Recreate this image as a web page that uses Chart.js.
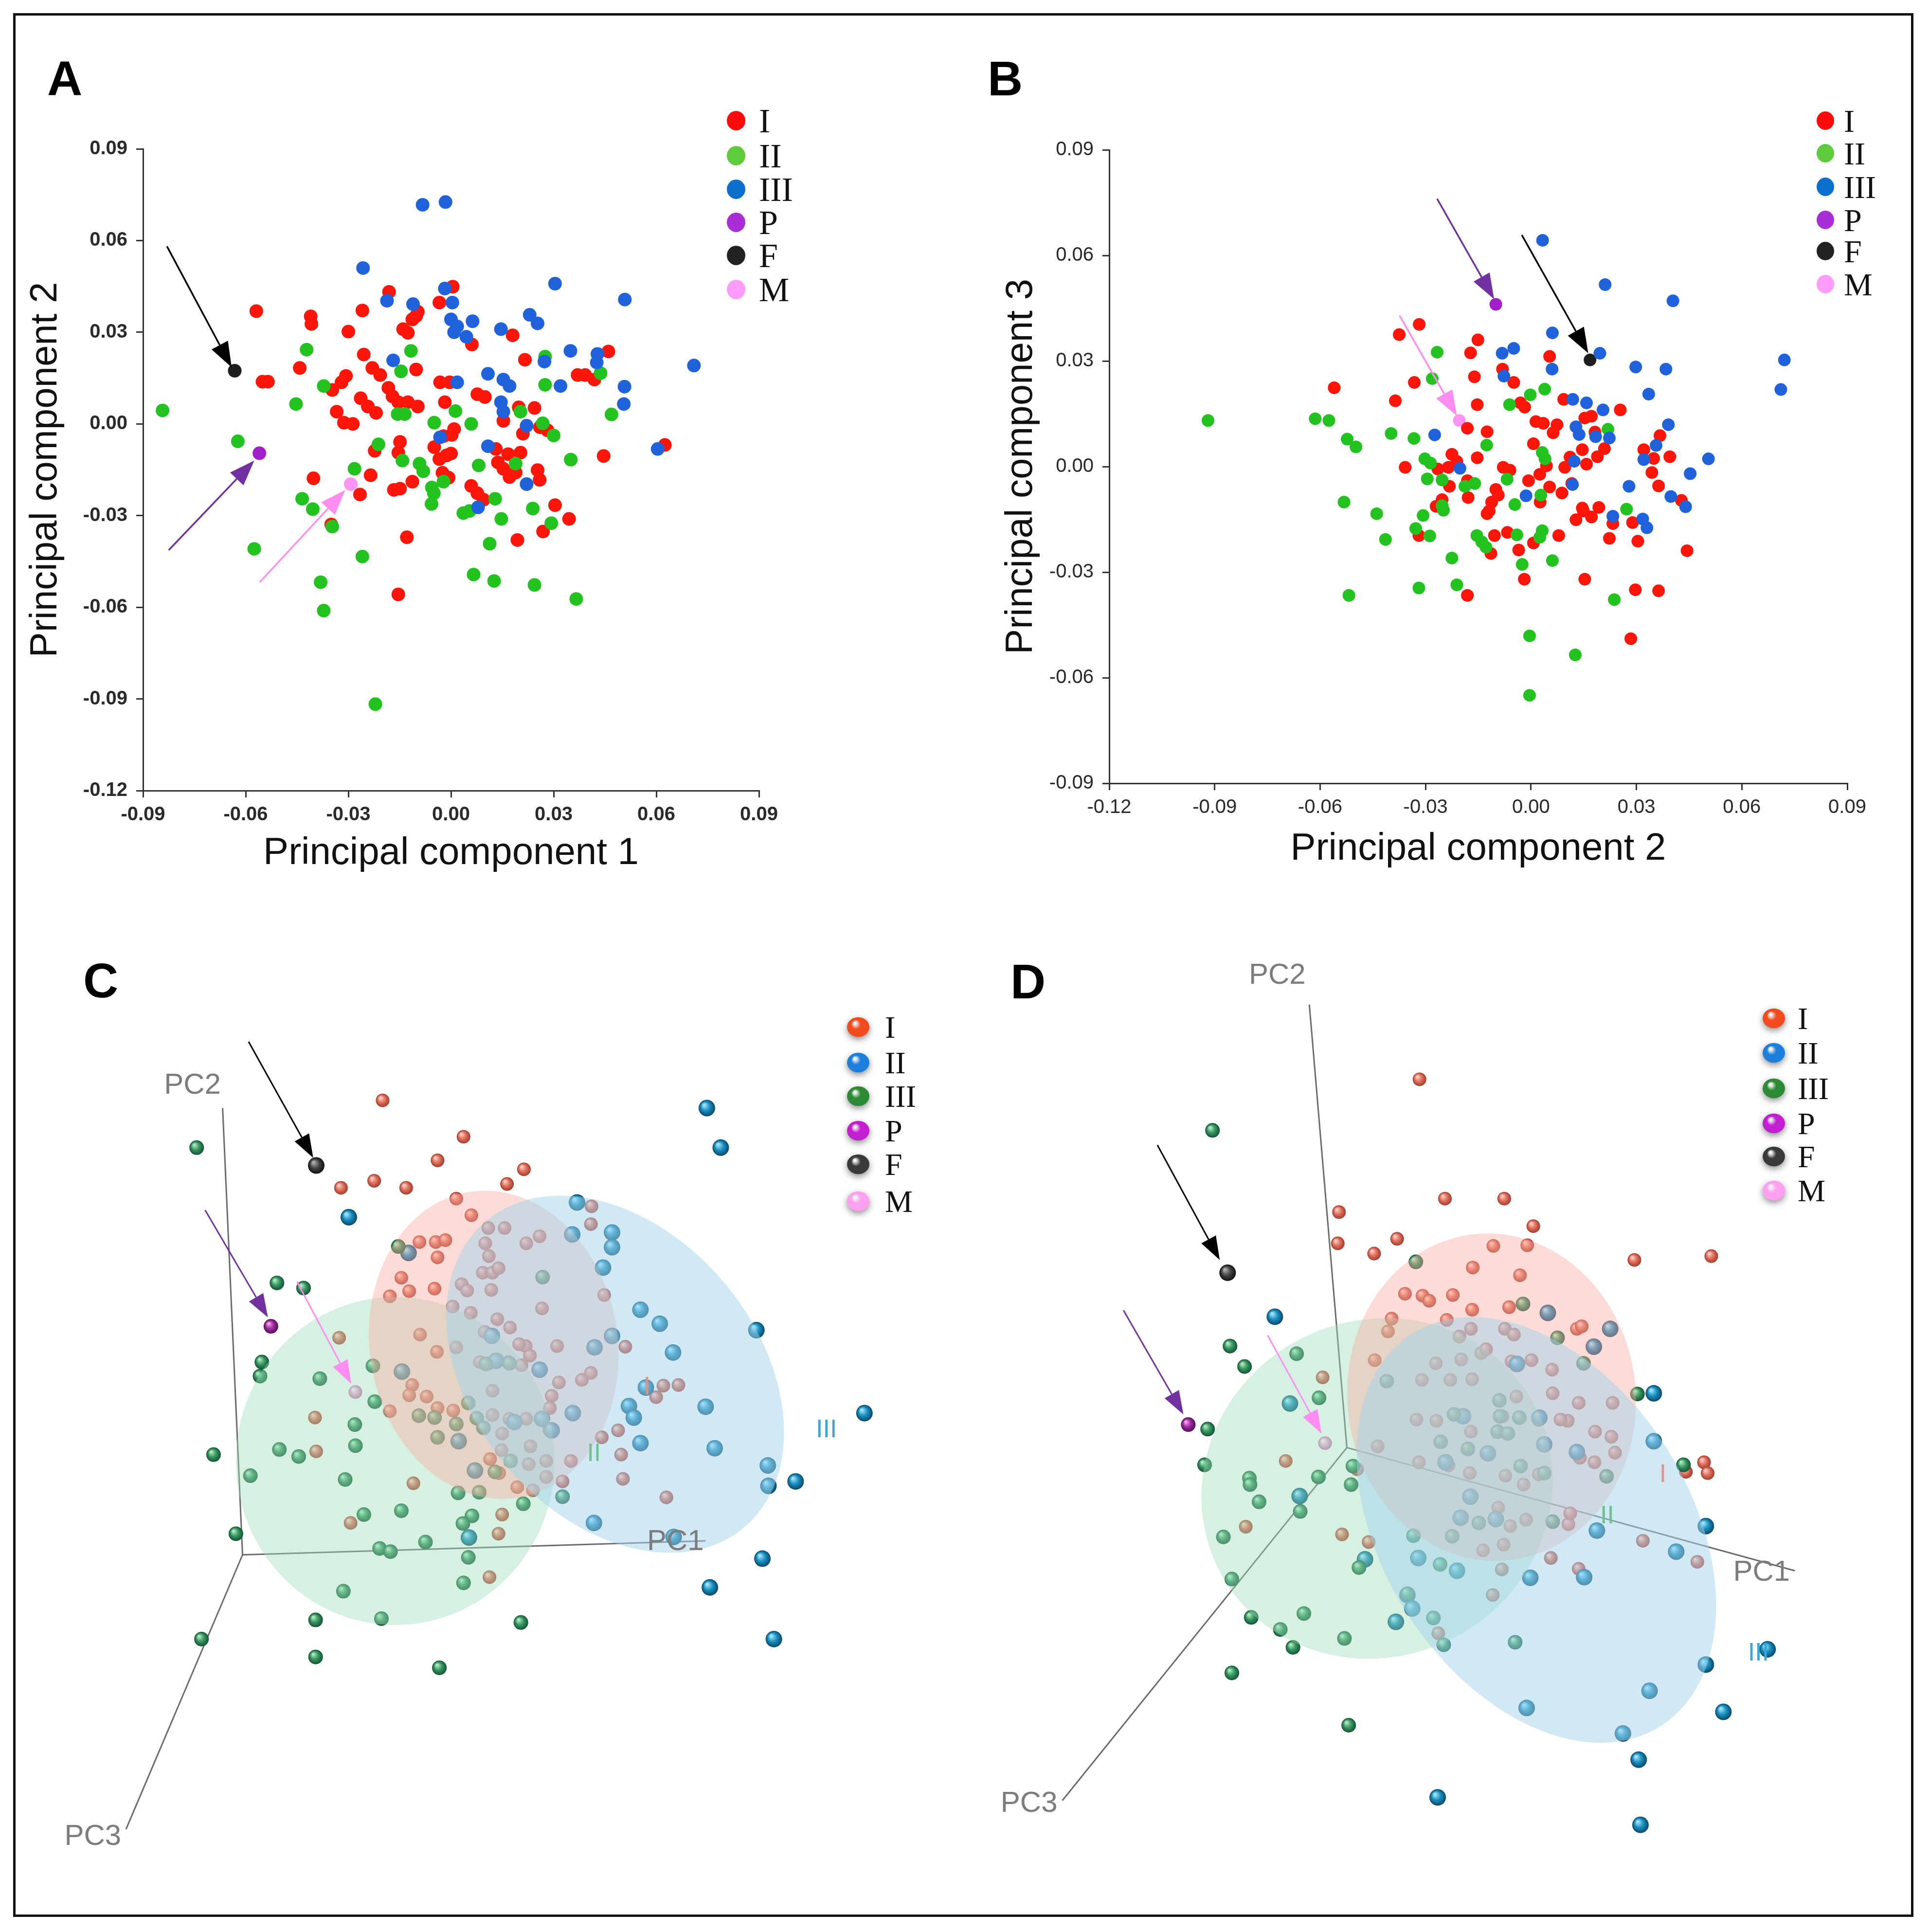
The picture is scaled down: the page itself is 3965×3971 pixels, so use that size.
<!DOCTYPE html>
<html>
<head>
<meta charset="utf-8">
<script src="https://cdn.jsdelivr.net/npm/chart.js@4.4.1/dist/chart.umd.min.js"></script>
<style>
  html, body { margin: 0; padding: 0; background: #fff; }
  #page { position: relative; width: 3965px; height: 3971px; background: #fff; overflow: hidden; }
  #page canvas { position: absolute; }
  #frame { position: absolute; left: 27px; top: 27px; width: 3896px; height: 3903px; border: 5px solid #111; pointer-events: none; }
</style>
</head>
<body>
<div id="page">
  <canvas id="chartA" width="1980" height="1880" style="left:0;top:0;width:1980px;height:1880px"></canvas>
  <canvas id="chartB" width="1985" height="1880" style="left:1980px;top:0;width:1985px;height:1880px"></canvas>
  <canvas id="chartC" width="1980" height="2091" style="left:0;top:1880px;width:1980px;height:2091px"></canvas>
  <canvas id="chartD" width="1985" height="2091" style="left:1980px;top:1880px;width:1985px;height:2091px"></canvas>
  <div id="frame"></div>
</div>
<script>
// ---- Panel A: PC1 (x) vs PC2 (y) ----
const a_I = [[0.0005,0.0449],[-0.0181,0.0432],[-0.0034,0.0397],[-0.0259,0.0371],[-0.0569,0.0369],[-0.0410,0.0352],[-0.0408,0.0327],[-0.0300,0.0302],[-0.0140,0.0310],[-0.0126,0.0298],[-0.0102,0.0353],[-0.0113,0.0342],[-0.0097,0.0367],[0.0180,0.0290],[0.0061,0.0260],[0.0216,0.0210],[0.0460,0.0237],[-0.0442,0.0183],[-0.0551,0.0138],[-0.0535,0.0138],[-0.0230,0.0183],[-0.0207,0.0160],[-0.0255,0.0227],[-0.0102,0.0178],[-0.0307,0.0157],[-0.0320,0.0136],[-0.0347,0.0111],[-0.0264,0.0084],[-0.0183,0.0118],[-0.0171,0.0090],[-0.0154,0.0071],[-0.0126,0.0071],[-0.0097,0.0057],[-0.0243,0.0057],[-0.0219,0.0036],[-0.0032,0.0136],[-0.0004,0.0136],[-0.0018,0.0071],[0.0077,0.0097],[0.0099,0.0088],[0.0198,0.0054],[0.0244,0.0052],[0.0153,0.0010],[-0.0334,0.0040],[-0.0313,0.0004],[-0.0287,0.0000],[-0.0022,-0.0040],[0.0002,-0.0036],[0.0009,-0.0017],[-0.0049,-0.0076],[-0.0149,-0.0059],[-0.0154,-0.0094],[-0.0223,-0.0088],[0.0000,-0.0097],[-0.0013,-0.0103],[-0.0034,-0.0115],[0.0131,-0.0082],[0.0167,-0.0099],[0.0203,-0.0094],[0.0137,-0.0126],[0.0153,-0.0147],[0.0171,-0.0174],[0.0189,-0.0159],[0.0059,-0.0203],[0.0077,-0.0227],[0.0095,-0.0248],[0.0210,-0.0032],[0.0260,-0.0011],[0.0282,-0.0021],[0.0370,0.0160],[0.0392,0.0160],[0.0419,0.0145],[0.0446,-0.0105],[0.0253,-0.0151],[0.0259,-0.0183],[0.0269,-0.0352],[0.0304,-0.0266],[0.0345,-0.0311],[0.0625,-0.0069],[-0.0402,-0.0178],[-0.0235,-0.0168],[-0.0266,-0.0231],[-0.0167,-0.0216],[-0.0149,-0.0212],[-0.0113,-0.0189],[-0.0007,-0.0176],[-0.0350,-0.0329],[-0.0129,-0.0371],[0.0194,-0.0380],[-0.0154,-0.0558],[-0.0025,-0.0160]];
const a_II = [[-0.0422,0.0243],[-0.0117,0.0239],[-0.0146,0.0172],[-0.0372,0.0124],[-0.0453,0.0065],[-0.0843,0.0044],[-0.0623,-0.0057],[-0.0156,0.0032],[-0.0135,0.0032],[-0.0049,0.0004],[0.0013,0.0042],[0.0059,0.0000],[0.0203,0.0040],[0.0275,0.0220],[0.0275,0.0128],[0.0268,0.0002],[0.0300,-0.0038],[0.0469,0.0031],[0.0437,0.0166],[0.0350,-0.0117],[-0.0142,-0.0120],[-0.0092,-0.0130],[-0.0081,-0.0155],[-0.0056,-0.0208],[-0.0050,-0.0227],[-0.0057,-0.0262],[0.0081,-0.0136],[0.0189,-0.0130],[-0.0282,-0.0147],[-0.0212,-0.0067],[-0.0022,-0.0189],[0.0036,-0.0292],[0.0054,-0.0285],[0.0129,-0.0245],[0.0147,-0.0311],[0.0239,-0.0277],[0.0293,-0.0325],[0.0113,-0.0392],[-0.0435,-0.0245],[-0.0404,-0.0279],[-0.0347,-0.0336],[-0.0575,-0.0409],[-0.0259,-0.0434],[-0.0381,-0.0518],[-0.0372,-0.0611],[0.0066,-0.0493],[0.0126,-0.0514],[0.0244,-0.0527],[0.0366,-0.0573],[-0.0221,-0.0917]];
const a_III = [[-0.0083,0.0717],[-0.0016,0.0726],[-0.0257,0.0510],[0.0304,0.0459],[0.0508,0.0407],[-0.0018,0.0443],[-0.0187,0.0403],[-0.0111,0.0392],[0.0004,0.0397],[0.0000,0.0342],[0.0063,0.0336],[0.0018,0.0319],[0.0009,0.0300],[0.0045,0.0285],[0.0146,0.0310],[0.0230,0.0357],[0.0253,0.0329],[-0.0169,0.0208],[0.0349,0.0239],[0.0428,0.0229],[0.0426,0.0201],[0.0710,0.0191],[0.0108,0.0164],[0.0153,0.0145],[0.0171,0.0124],[0.0320,0.0124],[0.0507,0.0122],[0.0505,0.0065],[0.0018,0.0136],[0.0146,0.0071],[0.0153,0.0040],[-0.0032,-0.0044],[0.0108,-0.0073],[0.0604,-0.0082],[0.0221,-0.0006],[0.0221,-0.0197],[0.0079,-0.0273],[0.0273,0.0204]];
const a_P = [[-0.0560,-0.0096]];
const a_F = [[-0.0632,0.0174]];
const a_M = [[-0.0293,-0.0197]];
const a_arrows = [
  { from: [-0.0830, 0.0581], to: [-0.0641, 0.0185], color: '#000000' },
  { from: [-0.0825, -0.0413], to: [-0.0575, -0.0120], color: '#7030a0' },
  { from: [-0.0559, -0.0518], to: [-0.0309, -0.0216], color: '#ff8cf0' }
];

// ---- Panel B: PC2 (x) vs PC3 (y) ----
const b_I = [[-0.0318,0.0404],[-0.0375,0.0375],[-0.0151,0.0360],[-0.0172,0.0323],[0.0053,0.0313],[-0.0081,0.0277],[-0.0049,0.0239],[-0.0332,0.0239],[-0.0161,0.0255],[-0.0560,0.0224],[-0.0386,0.0187],[-0.0153,0.0176],[-0.0030,0.0181],[-0.0018,0.0169],[0.0093,0.0191],[0.0254,0.0161],[0.0014,0.0128],[0.0035,0.0123],[0.0063,0.0096],[0.0172,0.0143],[0.0153,0.0138],[0.0182,0.0098],[-0.0181,0.0109],[-0.0125,0.0099],[0.0074,0.0119],[0.0007,0.0065],[0.0146,0.0048],[0.0209,0.0051],[0.0189,0.0028],[0.0158,0.0007],[0.0367,0.0088],[0.0321,0.0048],[0.0349,0.0023],[0.0395,0.0028],[0.0344,-0.0017],[0.0363,-0.0055],[0.0428,-0.0096],[-0.0153,0.0025],[-0.0225,0.0035],[-0.0211,0.0015],[-0.0235,-0.0002],[-0.0265,-0.0007],[-0.0358,-0.0002],[-0.0232,-0.0056],[-0.0181,-0.0040],[-0.0179,-0.0088],[-0.0100,-0.0065],[-0.0112,-0.0101],[-0.0093,-0.0081],[-0.0119,-0.0126],[-0.0125,-0.0134],[-0.0079,-0.0002],[-0.0060,-0.0010],[-0.0007,-0.0040],[0.0025,-0.0022],[0.0044,0.0002],[0.0053,-0.0058],[0.0088,-0.0075],[0.0096,-0.0002],[0.0026,-0.0101],[0.0149,-0.0126],[0.0172,-0.0143],[0.0128,-0.0151],[0.0146,-0.0118],[0.0193,-0.0116],[0.0233,-0.0162],[0.0289,-0.0159],[0.0116,-0.0048],[0.0111,0.0027],[-0.0319,-0.0196],[-0.0104,-0.0196],[-0.0067,-0.0187],[-0.0114,-0.0247],[-0.0035,-0.0237],[0.0007,-0.0217],[0.0079,-0.0196],[0.0223,-0.0204],[0.0304,-0.0212],[0.0444,-0.0239],[-0.0019,-0.0320],[0.0153,-0.0320],[0.0297,-0.0350],[0.0363,-0.0353],[-0.0181,-0.0366],[0.0284,-0.0489],[-0.0270,-0.0113],[-0.0253,-0.0094]];
const b_II = [[-0.0919,0.0131],[-0.0614,0.0136],[-0.0575,0.0131],[-0.0523,0.0078],[-0.0498,0.0056],[-0.0398,0.0094],[-0.0333,0.0080],[-0.0281,0.0250],[-0.0267,0.0325],[-0.0302,0.0022],[-0.0286,0.0010],[-0.0295,-0.0035],[-0.0253,-0.0038],[-0.0160,-0.0048],[-0.0126,0.0061],[-0.0002,0.0204],[0.0039,0.0220],[-0.0061,0.0176],[0.0032,0.0040],[0.0040,0.0022],[0.0028,-0.0081],[0.0032,-0.0182],[0.0025,-0.0201],[-0.0532,-0.0101],[-0.0439,-0.0134],[-0.0307,-0.0139],[-0.0253,-0.0111],[-0.0249,-0.0124],[-0.0328,-0.0176],[-0.0288,-0.0197],[-0.0414,-0.0207],[-0.0154,-0.0196],[-0.0140,-0.0214],[-0.0128,-0.0229],[-0.0046,-0.0108],[-0.0040,-0.0194],[-0.0068,-0.0036],[-0.0225,-0.0260],[-0.0025,-0.0278],[0.0061,-0.0267],[0.0219,0.0106],[0.0272,-0.0121],[-0.0319,-0.0345],[-0.0211,-0.0336],[-0.0518,-0.0366],[0.0237,-0.0378],[-0.0004,-0.0481],[0.0126,-0.0535],[-0.0004,-0.0650],[-0.0188,-0.0056]];
const b_III = [[0.0033,0.0643],[0.0211,0.0517],[0.0404,0.0471],[0.0061,0.0380],[-0.0082,0.0322],[-0.0049,0.0336],[0.0196,0.0322],[0.0060,0.0277],[0.0298,0.0283],[0.0384,0.0277],[0.0721,0.0303],[0.0711,0.0219],[-0.0077,0.0257],[0.0335,0.0206],[0.0119,0.0191],[0.0158,0.0181],[0.0205,0.0161],[0.0391,0.0119],[0.0137,0.0091],[0.0184,0.0085],[0.0223,0.0081],[-0.0274,0.0090],[0.0356,0.0060],[0.0505,0.0022],[0.0453,-0.0020],[0.0123,0.0015],[0.0321,0.0020],[-0.0202,-0.0005],[0.0279,-0.0056],[0.0118,-0.0051],[-0.0014,-0.0083],[0.0398,-0.0085],[0.0440,-0.0114],[0.0233,-0.0141],[0.0318,-0.0149],[0.0330,-0.0174],[0.0128,0.0113]];
const b_P = [[-0.0100,0.0461]];
const b_F = [[0.0168,0.0303]];
const b_M = [[-0.0204,0.0131]];
const b_arrows = [
  { from: [-0.0267, 0.0761], to: [-0.0105, 0.0476], color: '#7030a0' },
  { from: [-0.0026, 0.0658], to: [0.0163, 0.0322], color: '#000000' },
  { from: [-0.0374, 0.0429], to: [-0.0211, 0.0144], color: '#ff8cf0' }
];

// ---- Panels C and D: 3-D views, points given in the projected view plane (0..1568, y down) ----
const c_I = [[620,278],[754,335],[711,372],[854,386],[551,415],[606,404],[659,415],[826,409],[742,432],[966,444],[767,458],[822,478],[795,478],[858,502],[880,491],[681,500],[708,500],[724,497],[711,524],[790,502],[796,522],[786,548],[802,548],[812,541],[651,556],[751,566],[760,576],[800,575],[664,577],[706,573],[632,585],[987,583],[965,472],[884,604],[736,601],[766,611],[810,621],[682,645],[789,641],[548,650],[831,634],[857,663],[846,660],[909,663],[1022,664],[742,665],[710,672],[781,688],[796,690],[828,688],[850,693],[864,678],[669,724],[664,740],[693,742],[802,733],[912,720],[950,716],[965,705],[1085,725],[1110,724],[1073,743],[900,741],[897,760],[508,775],[632,765],[711,760],[737,764],[802,771],[830,777],[858,777],[510,828],[865,820],[818,800],[817,826],[896,794],[983,806],[1010,795],[1015,833],[798,840],[813,862],[862,848],[891,843],[932,843],[671,878],[869,889],[891,868],[918,875],[1018,871],[1090,900],[818,927],[812,957],[567,940],[797,1025],[843,884]];
const c_II = [[1157,290],[1180,352],[564,461],[942,438],[934,488],[1000,485],[1000,508],[985,540],[663,517],[1047,606],[1079,628],[1239,638],[1101,673],[971,665],[1000,647],[801,647],[808,686],[880,700],[652,703],[935,768],[1028,757],[838,782],[884,777],[900,795],[746,812],[1047,815],[1155,758],[1170,823],[1258,850],[1259,882],[1304,875],[1418,768],[773,858],[970,940],[763,963],[1102,962],[1249,996],[1162,1041],[1268,1122],[1056,728],[1036,775]];
const c_III = [[312,352],[445,564],[489,572],[420,688],[417,710],[516,714],[604,694],[607,750],[340,833],[449,825],[481,836],[574,786],[575,819],[401,866],[558,872],[646,507],[885,555],[706,775],[680,772],[762,752],[742,785],[776,776],[787,791],[711,806],[806,860],[832,843],[745,893],[780,892],[589,927],[651,921],[768,929],[753,941],[853,910],[918,899],[377,957],[615,980],[633,985],[691,970],[762,994],[754,1034],[555,1047],[509,1092],[618,1090],[849,1096],[320,1122],[509,1150],[714,1167],[830,690],[791,691]];
const c_P = [[435,632]];
const c_F = [[510,380]];
const c_M = [[575,735]];
const c_arrows = [
  { from: [398,186], to: [505,368], color: '#000000' },
  { from: [326,450], to: [430,618], color: '#7030a0' },
  { from: [478,562], to: [568,722], color: '#ff8cf0' }
];
const c_axes = { origin: [388,990], ends: [[1155,968],[355,290],[195,1420]], labels: [['PC1',1105,970],['PC2',305,255],['PC3',140,1432]] };
const c_ellipses = [
  { label: 'II', cx: 641, cy: 843, rx: 264, ry: 257, rot: 0, lx: 970, ly: 832 },
  { label: 'I', cx: 804, cy: 661, rx: 205, ry: 243, rot: -12, lx: 1058, ly: 728 },
  { label: 'III', cx: 1005, cy: 707, rx: 322, ry: 230, rot: 45, lx: 1355, ly: 795 }
];

const d_I = [[740,245],[782,432],[880,432],[607,453],[605,502],[703,495],[665,518],[928,475],[862,506],[918,505],[1095,528],[1222,522],[828,540],[906,552],[716,581],[745,584],[756,592],[795,583],[827,606],[888,602],[694,620],[785,622],[825,636],[881,636],[896,645],[1000,636],[1008,632],[688,640],[806,648],[842,674],[850,668],[666,685],[767,690],[809,684],[892,687],[925,685],[959,700],[580,712],[744,716],[791,716],[827,715],[900,742],[960,737],[1003,752],[1059,752],[735,778],[768,780],[825,797],[877,773],[937,779],[985,780],[973,778],[1030,797],[1057,805],[1063,830],[1029,845],[1210,845],[1180,860],[1216,862],[671,820],[739,845],[788,850],[823,862],[882,866],[912,880],[937,864],[1005,838],[519,843],[637,856],[870,916],[890,945],[916,935],[986,942],[989,925],[453,946],[612,958],[656,970],[845,983],[879,974],[957,995],[1003,1012],[1109,968],[1199,1001],[876,1013],[861,1053],[771,1113]];
const d_II = [[501,617],[952,611],[1055,636],[1028,664],[901,691],[526,753],[938,775],[946,817],[1000,829],[853,831],[783,845],[812,773],[1127,737],[1127,812],[542,898],[824,899],[866,934],[808,932],[1033,952],[1213,945],[1164,985],[650,997],[738,995],[802,1015],[923,1026],[1012,1025],[720,1053],[728,1074],[701,1095],[917,1230],[1120,1203],[1242,1236],[1076,1270],[1213,1162],[1315,1138],[1102,1311],[770,1370],[1105,1413]];
const d_III = [[398,325],[734,531],[911,597],[427,663],[451,695],[537,675],[574,744],[390,793],[686,718],[385,849],[459,870],[460,880],[475,907],[573,868],[543,922],[630,851],[627,880],[775,813],[797,770],[820,824],[869,797],[872,748],[873,773],[905,775],[886,800],[907,851],[946,862],[1049,867],[1100,738],[1011,690],[968,650],[1176,849],[416,962],[430,1028],[730,960],[794,961],[838,940],[960,938],[640,1010],[774,1005],[462,1088],[510,1107],[549,1082],[531,1135],[616,1121],[720,1051],[763,1089],[780,1131],[898,1127],[430,1175],[623,1257]];
const d_P = [[358,786]];
const d_F = [[423,548]];
const d_M = [[584,815]];
const d_arrows = [
  { from: [307,348], to: [410,528], color: '#000000' },
  { from: [251,607], to: [350,770], color: '#7030a0' },
  { from: [489,646], to: [578,800], color: '#ff8cf0' }
];
const d_axes = { origin: [620,822], ends: [[1360,1015],[558,128],[150,1375]], labels: [['PC1',1305,1018],['PC2',505,83],['PC3',95,1380]] };
const d_ellipses = [
  { label: 'II', cx: 670, cy: 886, rx: 292, ry: 265, rot: -15, lx: 1050, ly: 930 },
  { label: 'I', cx: 859, cy: 743, rx: 238, ry: 257, rot: -10, lx: 1142, ly: 865 },
  { label: 'III', cx: 933, cy: 951, rx: 370, ry: 250, rot: 54, lx: 1300, ly: 1145 }
];

const groupNames = ['I', 'II', 'III', 'P', 'F', 'M'];

Chart.defaults.font.family = '"Liberation Sans", Arial, sans-serif';
Chart.defaults.animation = false;
Chart.defaults.plugins.legend.display = false;
Chart.defaults.plugins.tooltip.enabled = false;

const toXY = arr => arr.map(p => ({ x: p[0], y: p[1] }));
const fmt = v => (Math.abs(v) < 1e-9 ? 0 : v).toFixed(2);

function drawArrow(ctx, x1, y1, x2, y2, color, lw, headLen, headW) {
  const ang = Math.atan2(y2 - y1, x2 - x1);
  const bx = x2 - headLen * Math.cos(ang);
  const by = y2 - headLen * Math.sin(ang);
  ctx.save();
  ctx.strokeStyle = color;
  ctx.fillStyle = color;
  ctx.lineWidth = lw;
  ctx.beginPath();
  ctx.moveTo(x1, y1);
  ctx.lineTo(bx, by);
  ctx.stroke();
  ctx.beginPath();
  ctx.moveTo(x2, y2);
  ctx.lineTo(bx + headW / 2 * Math.sin(ang), by - headW / 2 * Math.cos(ang));
  ctx.lineTo(bx - headW / 2 * Math.sin(ang), by + headW / 2 * Math.cos(ang));
  ctx.closePath();
  ctx.fill();
  ctx.restore();
}

function drawLegend(ctx, leg) {
  ctx.save();
  leg.rows.forEach((yy, i) => {
    const c = leg.colors[i];
    if (leg.sphere) {
      ctx.save();
      ctx.shadowColor = 'rgba(0,0,0,0.45)';
      ctx.shadowBlur = 14;
      ctx.shadowOffsetY = 5;
      const g = ctx.createRadialGradient(leg.x - leg.r * 0.3, yy - leg.r * 0.35, leg.r * 0.1, leg.x, yy, leg.r);
      g.addColorStop(0, 'rgba(255,255,255,0.9)');
      g.addColorStop(0.35, c);
      g.addColorStop(1, c);
      ctx.fillStyle = g;
      ctx.beginPath();
      ctx.ellipse(leg.x, yy, leg.r, leg.r * 0.88, 0, 0, Math.PI * 2);
      ctx.fill();
      ctx.restore();
    } else {
      ctx.fillStyle = c;
      ctx.beginPath();
      ctx.ellipse(leg.x, yy, leg.r, leg.r * 1.05, 0, 0, Math.PI * 2);
      ctx.fill();
    }
    ctx.fillStyle = '#111';
    ctx.font = leg.font;
    ctx.textAlign = 'left';
    ctx.textBaseline = 'middle';
    ctx.fillText(groupNames[i], leg.tx, yy + leg.dy);
  });
  ctx.restore();
}

function drawLetter(ctx, letter, x, y) {
  ctx.save();
  ctx.fillStyle = '#000';
  ctx.font = 'bold 100px "Liberation Sans", Arial, sans-serif';
  ctx.textAlign = 'center';
  ctx.textBaseline = 'middle';
  ctx.fillText(letter, x, y);
  ctx.restore();
}

// ---- 2-D panels ----
const flatColors = { I: '#ff1408', II: '#22c31f', III: '#1f62dc', P: '#a01fc8', F: '#1e1e1e', M: '#ff95f2' };
const flatLegend = ['#ff0a0a', '#5dcb3c', '#0b6fcd', '#a82fd6', '#222222', '#ff9cfa'];

function flatPanel(canvasId, sets, cfg) {
  const decor = {
    id: 'decor' + cfg.letter,
    afterDraw(chart) {
      const ctx = chart.ctx;
      const xs = chart.scales.x, ys = chart.scales.y;
      cfg.arrows.forEach(a => {
        drawArrow(ctx, xs.getPixelForValue(a.from[0]), ys.getPixelForValue(a.from[1]),
          xs.getPixelForValue(a.to[0]), ys.getPixelForValue(a.to[1]), a.color, 3.5, 52, 38);
      });
      drawLetter(ctx, cfg.letter, cfg.letterX, cfg.letterY);
      drawLegend(ctx, cfg.legend);
    }
  };
  const datasets = [
    ['III', sets[2]], ['II', sets[1]], ['I', sets[0]], ['P', sets[3]], ['F', sets[4]], ['M', sets[5]]
  ].map(([name, arr]) => ({
    label: name,
    data: toXY(arr),
    pointRadius: cfg.radius,
    pointBackgroundColor: flatColors[name],
    pointBorderWidth: 0,
    pointStyle: 'circle'
  }));
  const tickFont = { size: 40, weight: cfg.tickWeight };
  return new Chart(document.getElementById(canvasId), {
    type: 'scatter',
    data: { datasets },
    options: {
      responsive: false,
      devicePixelRatio: 1,
      layout: { padding: cfg.padding },
      scales: {
        x: {
          type: 'linear', min: cfg.xMin, max: cfg.xMax,
          ticks: { stepSize: 0.03, callback: fmt, font: tickFont, color: '#2a2a2a', padding: 12, maxRotation: 0, autoSkip: false },
          grid: { display: true, drawOnChartArea: false, drawTicks: true, tickLength: 14, color: '#333', lineWidth: 3 },
          border: { display: true, color: '#333', width: 3 },
          title: { display: true, text: cfg.xTitle, color: '#111', font: { size: 78 }, padding: { top: 0, bottom: cfg.xTitlePad } },
          afterFit(s) { s.height = cfg.xHeight; }
        },
        y: {
          type: 'linear', min: cfg.yMin, max: cfg.yMax,
          ticks: { stepSize: 0.03, callback: fmt, font: tickFont, color: '#2a2a2a', padding: 18, autoSkip: false },
          grid: { display: true, drawOnChartArea: false, drawTicks: true, tickLength: 14, color: '#333', lineWidth: 3 },
          border: { display: true, color: '#333', width: 3 },
          title: { display: true, text: cfg.yTitle, color: '#111', font: { size: 78 }, padding: { top: cfg.yTitlePad, bottom: 0 } },
          afterFit(s) { s.width = cfg.yWidth; }
        }
      }
    },
    plugins: [decor]
  });
}

flatPanel('chartA', [a_I, a_II, a_III, a_P, a_F, a_M], {
  letter: 'A', letterX: 133, letterY: 168,
  xMin: -0.09, xMax: 0.09, yMin: -0.12, yMax: 0.09,
  xTitle: 'Principal component 1', yTitle: 'Principal component 2',
  padding: { left: 4, top: 306, right: 420, bottom: 40 },
  xHeight: 215, yWidth: 290, xTitlePad: 39, yTitlePad: 44,
  radius: 14, tickWeight: 'bold', arrows: a_arrows,
  legend: { x: 1513, tx: 1560, rows: [248, 320, 389, 457, 525, 595], r: 19, dy: 6, colors: flatLegend,
            font: '70px "Liberation Serif", "DejaVu Serif", serif' }
});

flatPanel('chartB', [b_I, b_II, b_III, b_P, b_F, b_M], {
  letter: 'B', letterX: 86, letterY: 168,
  xMin: -0.12, xMax: 0.09, yMin: -0.09, yMax: 0.09,
  xTitle: 'Principal component 2', yTitle: 'Principal component 3',
  padding: { left: 4, top: 308, right: 168, bottom: 40 },
  xHeight: 230, yWidth: 296, xTitlePad: 48, yTitlePad: 69,
  radius: 13, tickWeight: 'normal', arrows: b_arrows,
  legend: { x: 1772, tx: 1810, rows: [248, 315, 384, 452, 516, 584], r: 18, dy: 6, colors: flatLegend,
            font: '66px "Liberation Serif", "DejaVu Serif", serif' }
});

// ---- 3-D panels ----
const sphereColors = {
  I:   { base: '#e0705e', light: '#ffd3c8', dark: '#a23c2c', r: 14 },
  II:  { base: '#1a8fc0', light: '#a6e6ff', dark: '#0a4868', r: 17 },
  III: { base: '#379760', light: '#b4ecc4', dark: '#145236', r: 15 },
  P:   { base: '#9e2a9e', light: '#f2a8f2', dark: '#541058', r: 15 },
  F:   { base: '#454545', light: '#b0b0b0', dark: '#101010', r: 17 },
  M:   { base: '#f0a6da', light: '#fff2fb', dark: '#c46ca8', r: 14 }
};
const sphereLegend = ['#f24b1f', '#1c7fdc', '#2d8a34', '#c21fd0', '#3a3a3a', '#ff9ff0'];

function sphereFill(name) {
  const s = sphereColors[name];
  return function (ctx) {
    if (ctx.type !== 'data' || !ctx.raw) return s.base;
    const chart = ctx.chart;
    const xs = chart.scales && chart.scales.x, ys = chart.scales && chart.scales.y;
    if (!xs || !ys) return s.base;
    const px = xs.getPixelForValue(ctx.raw.x);
    const py = ys.getPixelForValue(ctx.raw.y);
    if (!isFinite(px) || !isFinite(py)) return s.base;
    const g = chart.ctx.createRadialGradient(px - s.r * 0.35, py - s.r * 0.4, s.r * 0.08, px, py, s.r);
    g.addColorStop(0, s.light);
    g.addColorStop(0.5, s.base);
    g.addColorStop(1, s.dark);
    return g;
  };
}

const ellipseStyle = {
  'I':   { fill: 'rgba(250,172,160,0.42)', text: '#e39088' },
  'II':  { fill: 'rgba(158,222,186,0.42)', text: '#72bf92' },
  'III': { fill: 'rgba(162,212,236,0.50)', text: '#3aa6d6' }
};

function spherePanel(canvasId, sets, cfg) {
  const decor = {
    id: 'decor' + cfg.letter,
    beforeDatasetsDraw(chart) {
      const ctx = chart.ctx;
      const xs = chart.scales.x, ys = chart.scales.y;
      const o = cfg.axes.origin;
      ctx.save();
      ctx.strokeStyle = '#6a6a6a';
      ctx.lineWidth = 3;
      cfg.axes.ends.forEach(e => {
        ctx.beginPath();
        ctx.moveTo(xs.getPixelForValue(o[0]), ys.getPixelForValue(o[1]));
        ctx.lineTo(xs.getPixelForValue(e[0]), ys.getPixelForValue(e[1]));
        ctx.stroke();
      });
      ctx.restore();
    },
    afterDatasetsDraw(chart) {
      const ctx = chart.ctx;
      const xs = chart.scales.x, ys = chart.scales.y;
      ctx.save();
      cfg.ellipses.forEach(el => {
        const th = el.rot * Math.PI / 180;
        ctx.beginPath();
        for (let k = 0; k <= 120; k++) {
          const t = k / 120 * Math.PI * 2;
          const u = el.cx + el.rx * Math.cos(th) * Math.cos(t) - el.ry * Math.sin(th) * Math.sin(t);
          const v = el.cy + el.rx * Math.sin(th) * Math.cos(t) + el.ry * Math.cos(th) * Math.sin(t);
          const px = xs.getPixelForValue(u), py = ys.getPixelForValue(v);
          if (k === 0) ctx.moveTo(px, py); else ctx.lineTo(px, py);
        }
        ctx.closePath();
        ctx.fillStyle = ellipseStyle[el.label].fill;
        ctx.fill();
      });
      ctx.font = '52px "Liberation Sans", Arial, sans-serif';
      ctx.textAlign = 'center';
      ctx.textBaseline = 'middle';
      cfg.ellipses.forEach(el => {
        ctx.fillStyle = ellipseStyle[el.label].text;
        ctx.fillText(el.label, xs.getPixelForValue(el.lx), ys.getPixelForValue(el.ly));
      });
      ctx.font = '60px "Liberation Sans", Arial, sans-serif';
      ctx.fillStyle = '#7c7c7c';
      cfg.axes.labels.forEach(l => {
        ctx.fillText(l[0], xs.getPixelForValue(l[1]), ys.getPixelForValue(l[2]));
      });
      ctx.restore();
    },
    afterDraw(chart) {
      const ctx = chart.ctx;
      const xs = chart.scales.x, ys = chart.scales.y;
      cfg.arrows.forEach(a => {
        drawArrow(ctx, xs.getPixelForValue(a.from[0]), ys.getPixelForValue(a.from[1]),
          xs.getPixelForValue(a.to[0]), ys.getPixelForValue(a.to[1]), a.color, 3, 48, 34);
      });
      drawLetter(ctx, cfg.letter, cfg.letterX, cfg.letterY);
      drawLegend(ctx, cfg.legend);
    }
  };
  const datasets = [
    ['III', sets[2]], ['II', sets[1]], ['I', sets[0]], ['P', sets[3]], ['F', sets[4]], ['M', sets[5]]
  ].map(([name, arr]) => ({
    label: name,
    data: toXY(arr),
    pointRadius: sphereColors[name].r,
    pointBackgroundColor: sphereFill(name),
    pointBorderWidth: 0
  }));
  return new Chart(document.getElementById(canvasId), {
    type: 'scatter',
    data: { datasets },
    options: {
      responsive: false,
      devicePixelRatio: 1,
      layout: { padding: 0 },
      scales: {
        x: { type: 'linear', min: 0, max: 1568, display: false },
        y: { type: 'linear', min: 0, max: 1568, reverse: true, display: false }
      }
    },
    plugins: [decor]
  });
}

spherePanel('chartC', [c_I, c_II, c_III, c_P, c_F, c_M], {
  letter: 'C', letterX: 207, letterY: 142,
  axes: c_axes, ellipses: c_ellipses, arrows: c_arrows,
  legend: { sphere: true, x: 1764, tx: 1819, rows: [231, 304, 373, 444, 513, 589], r: 23, dy: 5, colors: sphereLegend,
            font: '64px "Liberation Serif", "DejaVu Serif", serif' }
});

spherePanel('chartD', [d_I, d_II, d_III, d_P, d_F, d_M], {
  letter: 'D', letterX: 133, letterY: 144,
  axes: d_axes, ellipses: d_ellipses, arrows: d_arrows,
  legend: { sphere: true, x: 1666, tx: 1715, rows: [213, 284, 357, 429, 497, 567], r: 23, dy: 5, colors: sphereLegend,
            font: '64px "Liberation Serif", "DejaVu Serif", serif' }
});
</script>
</body>
</html>
